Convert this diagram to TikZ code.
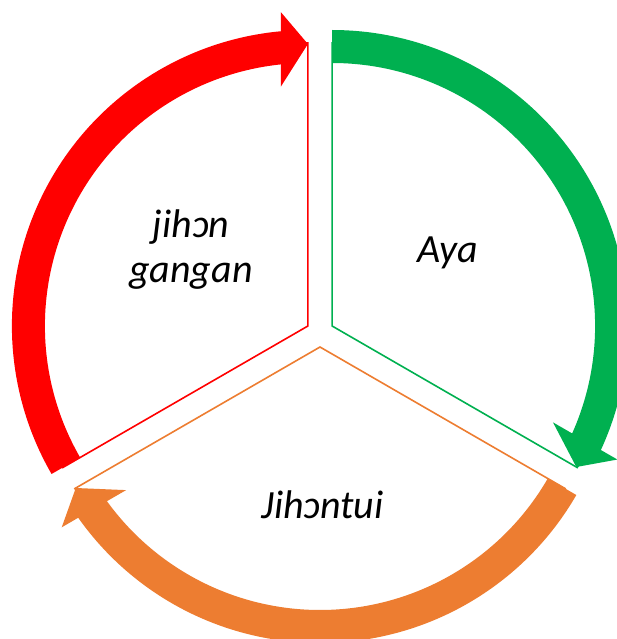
\documentclass[tikz,border=0pt]{standalone}
\usepackage{fontspec}
\setmainfont{Carlito}
\usetikzlibrary{calc}

\definecolor{cycred}{HTML}{FF0000}
\definecolor{cycgreen}{HTML}{00B050}
\definecolor{cycorange}{HTML}{ED7D31}

% thick curved arrow around a sector centre:
% #1 centre, #2 tail angle, #3 tip angle (travel is clockwise), #4 colour
\newcommand\segarrow[4]{%
  \fill[#4]
    ($(#1)+(#2:296pt)$) arc[start angle=#2, end angle={#3+5.23}, radius=296pt]
    -- ($(#1)+({#3+4.92}:315pt)$)
    -- ($(#1)+(#3:282pt)$)
    -- ($(#1)+({#3+6.43}:241pt)$)
    -- ($(#1)+({#3+5.89}:263pt)$)
    arc[start angle={#3+5.89}, end angle=#2, radius=263pt]
    -- cycle;
}

\tikzset{
  sectorline/.style={line width=1.6pt, fill=white},
  cyclabel/.style={font=\fontsize{40}{45}\selectfont\itshape, align=center, inner sep=0pt}
}

\begin{document}
\begin{tikzpicture}[x=1pt, y=1pt]
  \useasboundingbox (0,0) rectangle (617,-639);
  \clip (0,0) rectangle (617,-639);

  % sector centres, each pushed out from the middle along its bisector
  \coordinate (cred)    at (307.9,-326);
  \coordinate (cgreen)  at (332.1,-326);
  \coordinate (corange) at (320,-347);

  % wedge outlines
  \draw[draw=cycred, sectorline]    (cred)    -- ++(90:283pt)  arc[start angle=90,  end angle=210, radius=283pt] -- cycle;
  \draw[draw=cycgreen, sectorline]  (cgreen)  -- ++(-30:283pt) arc[start angle=-30, end angle=90,  radius=283pt] -- cycle;
  \draw[draw=cycorange, sectorline] (corange) -- ++(210:283pt) arc[start angle=210, end angle=330, radius=283pt] -- cycle;

  % curved arrows
  \segarrow{cgreen}{90}{-30}{cycgreen}
  \segarrow{cred}{210}{90}{cycred}
  \segarrow{corange}{330}{210}{cycorange}

  % labels
  \node[cyclabel] (lblred)    at (191,-250) {jihɔn\\gangan};
  \node[cyclabel, anchor=base] (lblgreen)  at (448,-262) {Aya};
  \node[cyclabel, anchor=base] (lblorange) at (322.5,-518) {Jihɔntui};
\end{tikzpicture}
\end{document}
